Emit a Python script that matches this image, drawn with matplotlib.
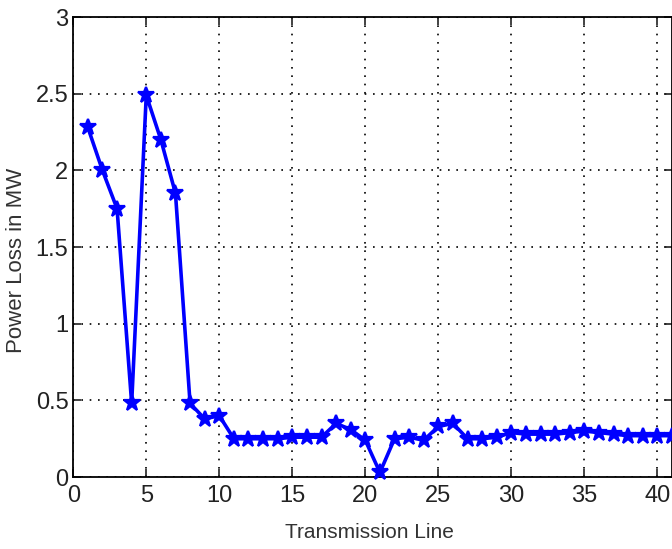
import numpy as np
import matplotlib.pyplot as plt

# power loss per transmission line (MW)
line_no = list(range(1, 42))
power_loss = [2.28, 2.00, 1.75, 0.48, 2.49, 2.20, 1.85, 0.48, 0.38, 0.40,
              0.25, 0.25, 0.25, 0.25, 0.26, 0.26, 0.26, 0.35, 0.31, 0.24,
              0.03, 0.25, 0.26, 0.24, 0.33, 0.35, 0.25, 0.25, 0.26, 0.29,
              0.28, 0.28, 0.28, 0.29, 0.30, 0.29, 0.28, 0.27, 0.27, 0.27,
              0.27]
x_ticks = [0, 5, 10, 15, 20, 25, 30, 35, 40]
y_ticks = [0, 0.5, 1, 1.5, 2, 2.5, 3]
y_tick_labels = ['0', '0.5', '1', '1.5', '2', '2.5', '3']

plt.rcParams['font.family'] = ['Liberation Sans', 'DejaVu Sans']

fig = plt.figure(figsize=(6.72, 5.49), dpi=100)
ax = fig.add_axes([0.109, 0.131, 0.891, 0.838])

ax.plot(line_no, power_loss, color='#0000ff', lw=2.6, marker='*',
        markersize=12, markeredgewidth=1.6, clip_on=False, zorder=3)

ax.set_xlim(0, 41)
ax.set_ylim(0, 3)
ax.set_xticks(x_ticks)
ax.set_yticks(y_ticks)
ax.set_yticklabels(y_tick_labels)
ax.grid(True, linestyle=(0, (1, 4)), color='black', lw=1.2)
ax.tick_params(direction='in', length=6, width=1.2, labelsize=17,
               colors='#222222', top=True, right=True)
ax.tick_params(axis='x', pad=6)
for s in ax.spines.values():
    s.set_linewidth(1.3)

ax.set_xlabel('Transmission Line', fontsize=15, color='#333333')
ax.set_ylabel('Power Loss in MW', fontsize=16, color='#333333')
ax.xaxis.set_label_coords(0.494, -0.1)
ax.yaxis.set_label_coords(-0.077, 0.47)

fig.savefig('out.png', dpi=100)
